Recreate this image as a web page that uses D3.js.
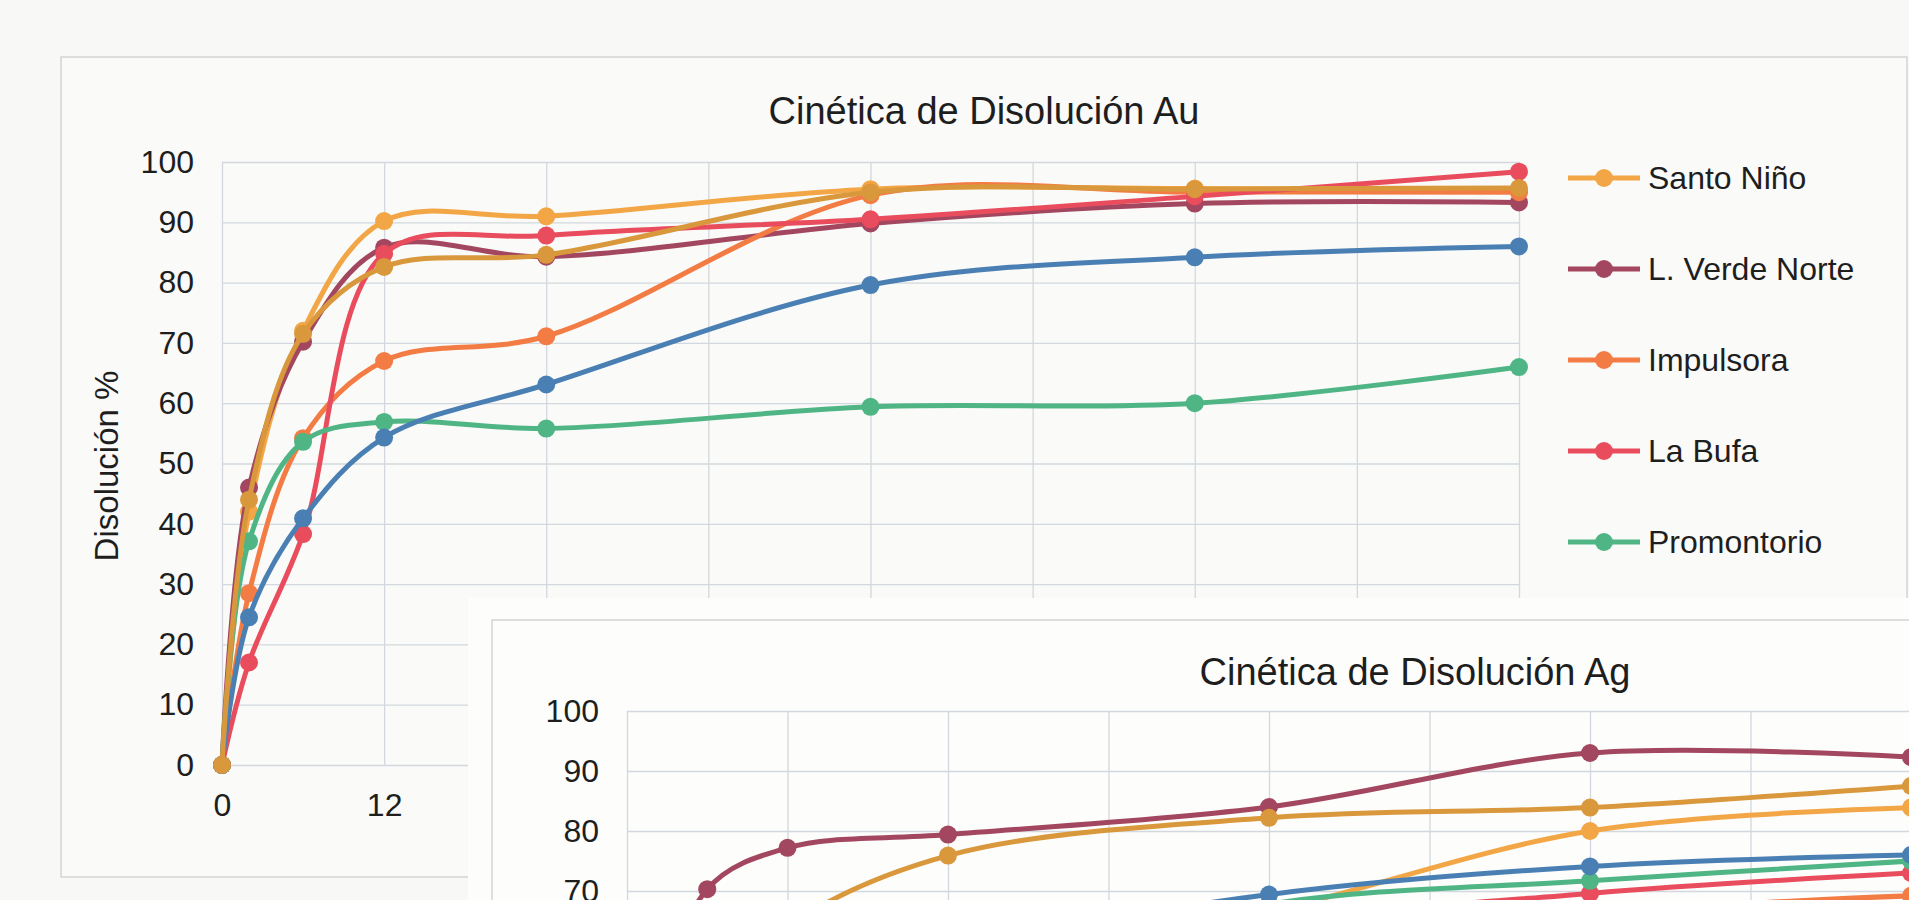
<!DOCTYPE html>
<html lang="es">
<head>
<meta charset="utf-8">
<title>Cinética de Disolución</title>
<script src="https://cdnjs.cloudflare.com/ajax/libs/d3/7.8.5/d3.min.js"></script>
<style>
	body { margin: 0; background: #f8f8f6; }
	svg { display: block; font-family: "Liberation Sans", Arial, sans-serif; }
	.grid line { stroke: #d2d8de; stroke-width: 1.3; }
	.grid path { display: none; }
	.tick text { fill: #1e1e1e; font-size: 32px; }
</style>
</head>
<body>
<div id="chart"></div>
<script>
// sample hours (same for both tests)
var hours = [0, 2, 6, 12, 24, 48, 72, 96];
var xTicks = [0, 12, 24, 36, 48, 60, 72, 84, 96];
var yTicks = [0, 10, 20, 30, 40, 50, 60, 70, 80, 90, 100];

// last two series have their legend entries hidden under the Ag chart
var seriesNames = ["Santo Niño", "L. Verde Norte", "Impulsora", "La Bufa", "Promontorio", "", ""];
var seriesColors = ["#f2a645", "#a3465f", "#f27c44", "#e94c5c", "#4fb585", "#4a7fb3", "#d9983c"];

// Au dissolution %
var auSantoNino   = [0, 42.0, 72.0, 90.2, 91.0, 95.5, 95.6, 95.2];
var auVerdeNorte  = [0, 46.0, 70.2, 85.8, 84.3, 89.8, 93.1, 93.3];
var auImpulsora   = [0, 28.5, 54.2, 67.0, 71.1, 94.5, 95.0, 95.0];
var auLaBufa      = [0, 17.0, 38.3, 84.8, 87.8, 90.5, 94.3, 98.4];
var auPromontorio = [0, 37.1, 53.6, 56.9, 55.8, 59.4, 60.0, 66.0];
var auSerie6      = [0, 24.5, 40.9, 54.3, 63.1, 79.6, 84.2, 86.0];
var auSerie7      = [0, 44.0, 71.5, 82.6, 84.6, 95.0, 95.5, 95.7];

// Ag dissolution %
var agSantoNino   = [0, 20, 35, 45, 55, 66.5, 80.0, 83.9];
var agVerdeNorte  = [0, 45, 70.3, 77.2, 79.4, 84.0, 93.0, 92.3];
var agImpulsora   = [0, 15, 25, 35, 45, 58, 66, 69.2];
var agLaBufa      = [0, 15, 28, 38, 50, 64, 69.6, 73.0];
var agPromontorio = [0, 20, 35, 45, 55, 67.8, 71.7, 75.0];
var agSerie6      = [0, 25, 40, 50, 60, 69.4, 74.1, 76.0];
var agSerie7      = [0, 30, 50, 64, 75.9, 82.2, 83.9, 87.5];

var auSeries = [auSantoNino, auVerdeNorte, auImpulsora, auLaBufa, auPromontorio, auSerie6, auSerie7];
var agSeries = [agSantoNino, agVerdeNorte, agImpulsora, agLaBufa, agPromontorio, agSerie6, agSerie7];

var width = 1909, height = 900;

var svg = d3.select("#chart").append("svg")
	.attr("width", width)
	.attr("height", height);

svg.append("rect").attr("width", width).attr("height", height).attr("fill", "#f8f8f6");

//draw one panel: gridlines, axes, smoothed lines with markers
function drawPanel(g, series, x, y, showXLabels) {
	var w = x.range()[1] - x.range()[0];
	var h = y.range()[0] - y.range()[1];

	g.append("g").attr("class", "grid")
		.attr("transform", "translate(" + x.range()[0] + ",0)")
		.call(d3.axisLeft(y).tickValues(yTicks).tickSize(-w).tickFormat(""));
	g.append("g").attr("class", "grid")
		.attr("transform", "translate(0," + y.range()[0] + ")")
		.call(d3.axisBottom(x).tickValues(xTicks).tickSize(-h).tickFormat(""));

	var yAxis = g.append("g")
		.attr("transform", "translate(" + x.range()[0] + ",0)")
		.call(d3.axisLeft(y).tickValues(yTicks).tickSize(0).tickPadding(28));
	yAxis.select(".domain").remove();

	if (showXLabels) {
		var xAxis = g.append("g")
			.attr("transform", "translate(0," + y.range()[0] + ")")
			.call(d3.axisBottom(x).tickValues(xTicks).tickSize(0).tickPadding(28));
		xAxis.select(".domain").remove();
	}

	var line = d3.line()
		.x(function(d, i) { return x(hours[i]); })
		.y(function(d) { return y(d); })
		.curve(d3.curveCatmullRom.alpha(0.5));

	series.forEach(function(vals, s) {
		var sg = g.append("g");
		sg.append("path")
			.attr("d", line(vals))
			.attr("fill", "none")
			.attr("stroke", seriesColors[s])
			.attr("stroke-width", 5)
			.attr("stroke-linejoin", "round");
		sg.selectAll("circle")
			.data(vals)
			.enter().append("circle")
			.attr("cx", function(d, i) { return x(hours[i]); })
			.attr("cy", function(d) { return y(d); })
			.attr("r", 9)
			.attr("fill", seriesColors[s]);
	});
}

// ---- Au chart ----
var au = svg.append("g");
au.append("rect")
	.attr("x", 61).attr("y", 57).attr("width", 1846).attr("height", 820)
	.attr("fill", "#fafaf8").attr("stroke", "#cdd0d0").attr("stroke-width", 1.3);

var auX = d3.scaleLinear().domain([0, 96]).range([222, 1519]);
var auY = d3.scaleLinear().domain([0, 100]).range([765, 162]);

au.append("text")
	.attr("x", 984).attr("y", 124)
	.attr("text-anchor", "middle")
	.attr("font-size", 38).attr("fill", "#1e1e1e")
	.text("Cinética de Disolución Au");

au.append("text")
	.attr("transform", "translate(106,466) rotate(-90)")
	.attr("text-anchor", "middle")
	.attr("dominant-baseline", "central")
	.attr("font-size", 33).attr("fill", "#1e1e1e")
	.text("Disolución %");

drawPanel(au, auSeries, auX, auY, true);

//legend for the named series
var legend = au.selectAll(".legend")
	.data(seriesNames.filter(function(n) { return n !== ""; }))
	.enter().append("g")
	.attr("class", "legend")
	.attr("transform", function(d, i) { return "translate(1568," + (178 + i * 91) + ")"; });
legend.append("line")
	.attr("x1", 0).attr("x2", 72)
	.attr("stroke", function(d, i) { return seriesColors[i]; })
	.attr("stroke-width", 5);
legend.append("circle")
	.attr("cx", 36).attr("r", 9)
	.attr("fill", function(d, i) { return seriesColors[i]; });
legend.append("text")
	.attr("x", 80).attr("dy", "0.35em")
	.attr("font-size", 32).attr("fill", "#1e1e1e")
	.text(function(d) { return d; });

// ---- Ag chart (pasted over the lower right) ----
var ag = svg.append("g");
ag.append("rect")
	.attr("x", 468).attr("y", 598).attr("width", width - 468).attr("height", height - 598)
	.attr("fill", "#fdfdfc");
ag.append("rect")
	.attr("x", 492).attr("y", 620).attr("width", 1600).attr("height", 600)
	.attr("fill", "none").attr("stroke", "#cdd0d0").attr("stroke-width", 1.3);

var agX = d3.scaleLinear().domain([0, 96]).range([627, 1911]);
var agY = d3.scaleLinear().domain([0, 100]).range([1311, 711]);

ag.append("text")
	.attr("x", 1415).attr("y", 685)
	.attr("text-anchor", "middle")
	.attr("font-size", 38).attr("fill", "#1e1e1e")
	.text("Cinética de Disolución Ag");

drawPanel(ag, agSeries, agX, agY, false);
</script>
</body>
</html>
